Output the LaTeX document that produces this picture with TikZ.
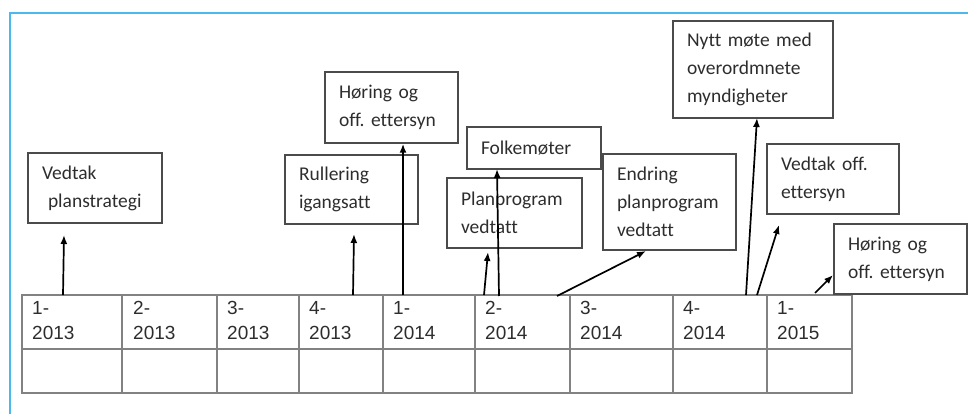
\documentclass[tikz,border=0pt]{standalone}
\usepackage{fontspec}
\setmainfont{Carlito}[Ligatures=NoCommon]
\newfontfamily\arialf{Liberation Sans}
\frenchspacing
\usetikzlibrary{arrows.meta}
\definecolor{frameblue}{RGB}{75,185,235}
\definecolor{boxgray}{RGB}{75,75,75}
\definecolor{gridgray}{RGB}{130,130,130}
\definecolor{txtgray}{RGB}{45,45,45}
\begin{document}
\begin{tikzpicture}[x=1pt,y=-1pt,
  evbox/.style={draw=boxgray, line width=1.5pt, inner xsep=14pt, inner ysep=0pt,
    align=left, text=txtgray, font=\fontsize{19.5}{28}\selectfont},
  celltxt/.style={anchor=west, inner sep=0pt, align=left, text=txtgray,
    font=\arialf\fontsize{19}{25}\selectfont},
  arr/.style={-{Latex[length=9pt,width=7pt]}, line width=1.7pt, black},
  gridline/.style={draw=gridgray, line width=1.3pt}]
\useasboundingbox (0,0) rectangle (968,414);
% frame
\draw[frameblue, line width=2.5pt] (10,414) -- (10,13) -- (968,13);
% table
\draw[gridline] (22,295) rectangle (852,393);
\draw[gridline] (22,349) -- (852,349);
\foreach \cx in {122,217,299,383,475,570,673,767}
  \draw[gridline] (\cx,295) -- (\cx,393);
\node[celltxt] (q1) at (32,320.7) {1-\\2013};
\node[celltxt] (q2) at (133,320.7) {2-\\2013};
\node[celltxt] (q3) at (227,320.7) {3-\\2013};
\node[celltxt] (q4) at (309,320.7) {4-\\2013};
\node[celltxt] (q5) at (393,320.7) {1-\\2014};
\node[celltxt] (q6) at (485,320.7) {2-\\2014};
\node[celltxt] (q7) at (580,320.7) {3-\\2014};
\node[celltxt] (q8) at (683,320.7) {4-\\2014};
\node[celltxt] (q9) at (777,320.7) {1-\\2015};
% boxes
\node[evbox, minimum width=134pt, minimum height=70pt, text width=106pt] (vp) at (95,188)
  {Vedtak\\\hspace*{6pt}planstrategi};
\node[evbox, minimum width=133pt, minimum height=71pt, text width=105pt] (h1) at (391.5,107.5)
  {Høring og\\off. ettersyn};
\node[evbox, minimum width=133pt, minimum height=69pt, text width=105pt] (rul) at (351.5,189.5)
  {Rullering\\igangsatt};
\node[evbox, minimum width=134pt, minimum height=42pt, text width=106pt] (folk) at (534,148)
  {Folkemøter};
\node[evbox, minimum width=135pt, minimum height=70pt, text width=107pt] (plan) at (514.5,213)
  {Planprogram\\vedtatt};
\node[evbox, minimum width=133pt, minimum height=96pt, text width=105pt] (endr) at (669.5,202)
  {Endring\\planprogram\\vedtatt};
\node[evbox, minimum width=160pt, minimum height=97pt, text width=132pt] (nytt) at (753,69.5)
  {Nytt møte med\\overordmnete\\myndigheter};
\node[evbox, minimum width=132pt, minimum height=70pt, text width=104pt] (voff) at (833,179)
  {Vedtak off.\\ettersyn};
\node[evbox, minimum width=133pt, minimum height=70pt, text width=105pt] (h2) at (900.5,259)
  {Høring og\\off. ettersyn};
% connector end points
\coordinate (s1) at (63,295);   \coordinate (t1) at (64,235);
\coordinate (s2) at (403,295);
\coordinate (s3) at (353,295);  \coordinate (t3) at (354,234);
\coordinate (s4) at (499,296);  \coordinate (t4) at (497,169);
\coordinate (s5) at (484,295);  \coordinate (t5) at (488,252);
\coordinate (s6) at (557,296);  \coordinate (t6) at (646,251);
\coordinate (s7) at (746,295);  \coordinate (t7) at (757,118);
\coordinate (s8) at (757,295);  \coordinate (t8) at (779,225);
\coordinate (s9) at (815,293);  \coordinate (t9) at (833,275);
% connectors
\draw[arr] (s1) -- (t1);
\draw[arr] (s2) -- (s2 |- h1.south);
\draw[arr] (s3) -- (t3);
\draw[arr] (s4) -- (t4);
\draw[arr] (s5) -- (t5);
\draw[arr] (s6) -- (t6);
\draw[arr] (s7) -- (t7);
\draw[arr] (s8) -- (t8);
\draw[arr] (s9) -- (t9);
\end{tikzpicture}
\end{document}
